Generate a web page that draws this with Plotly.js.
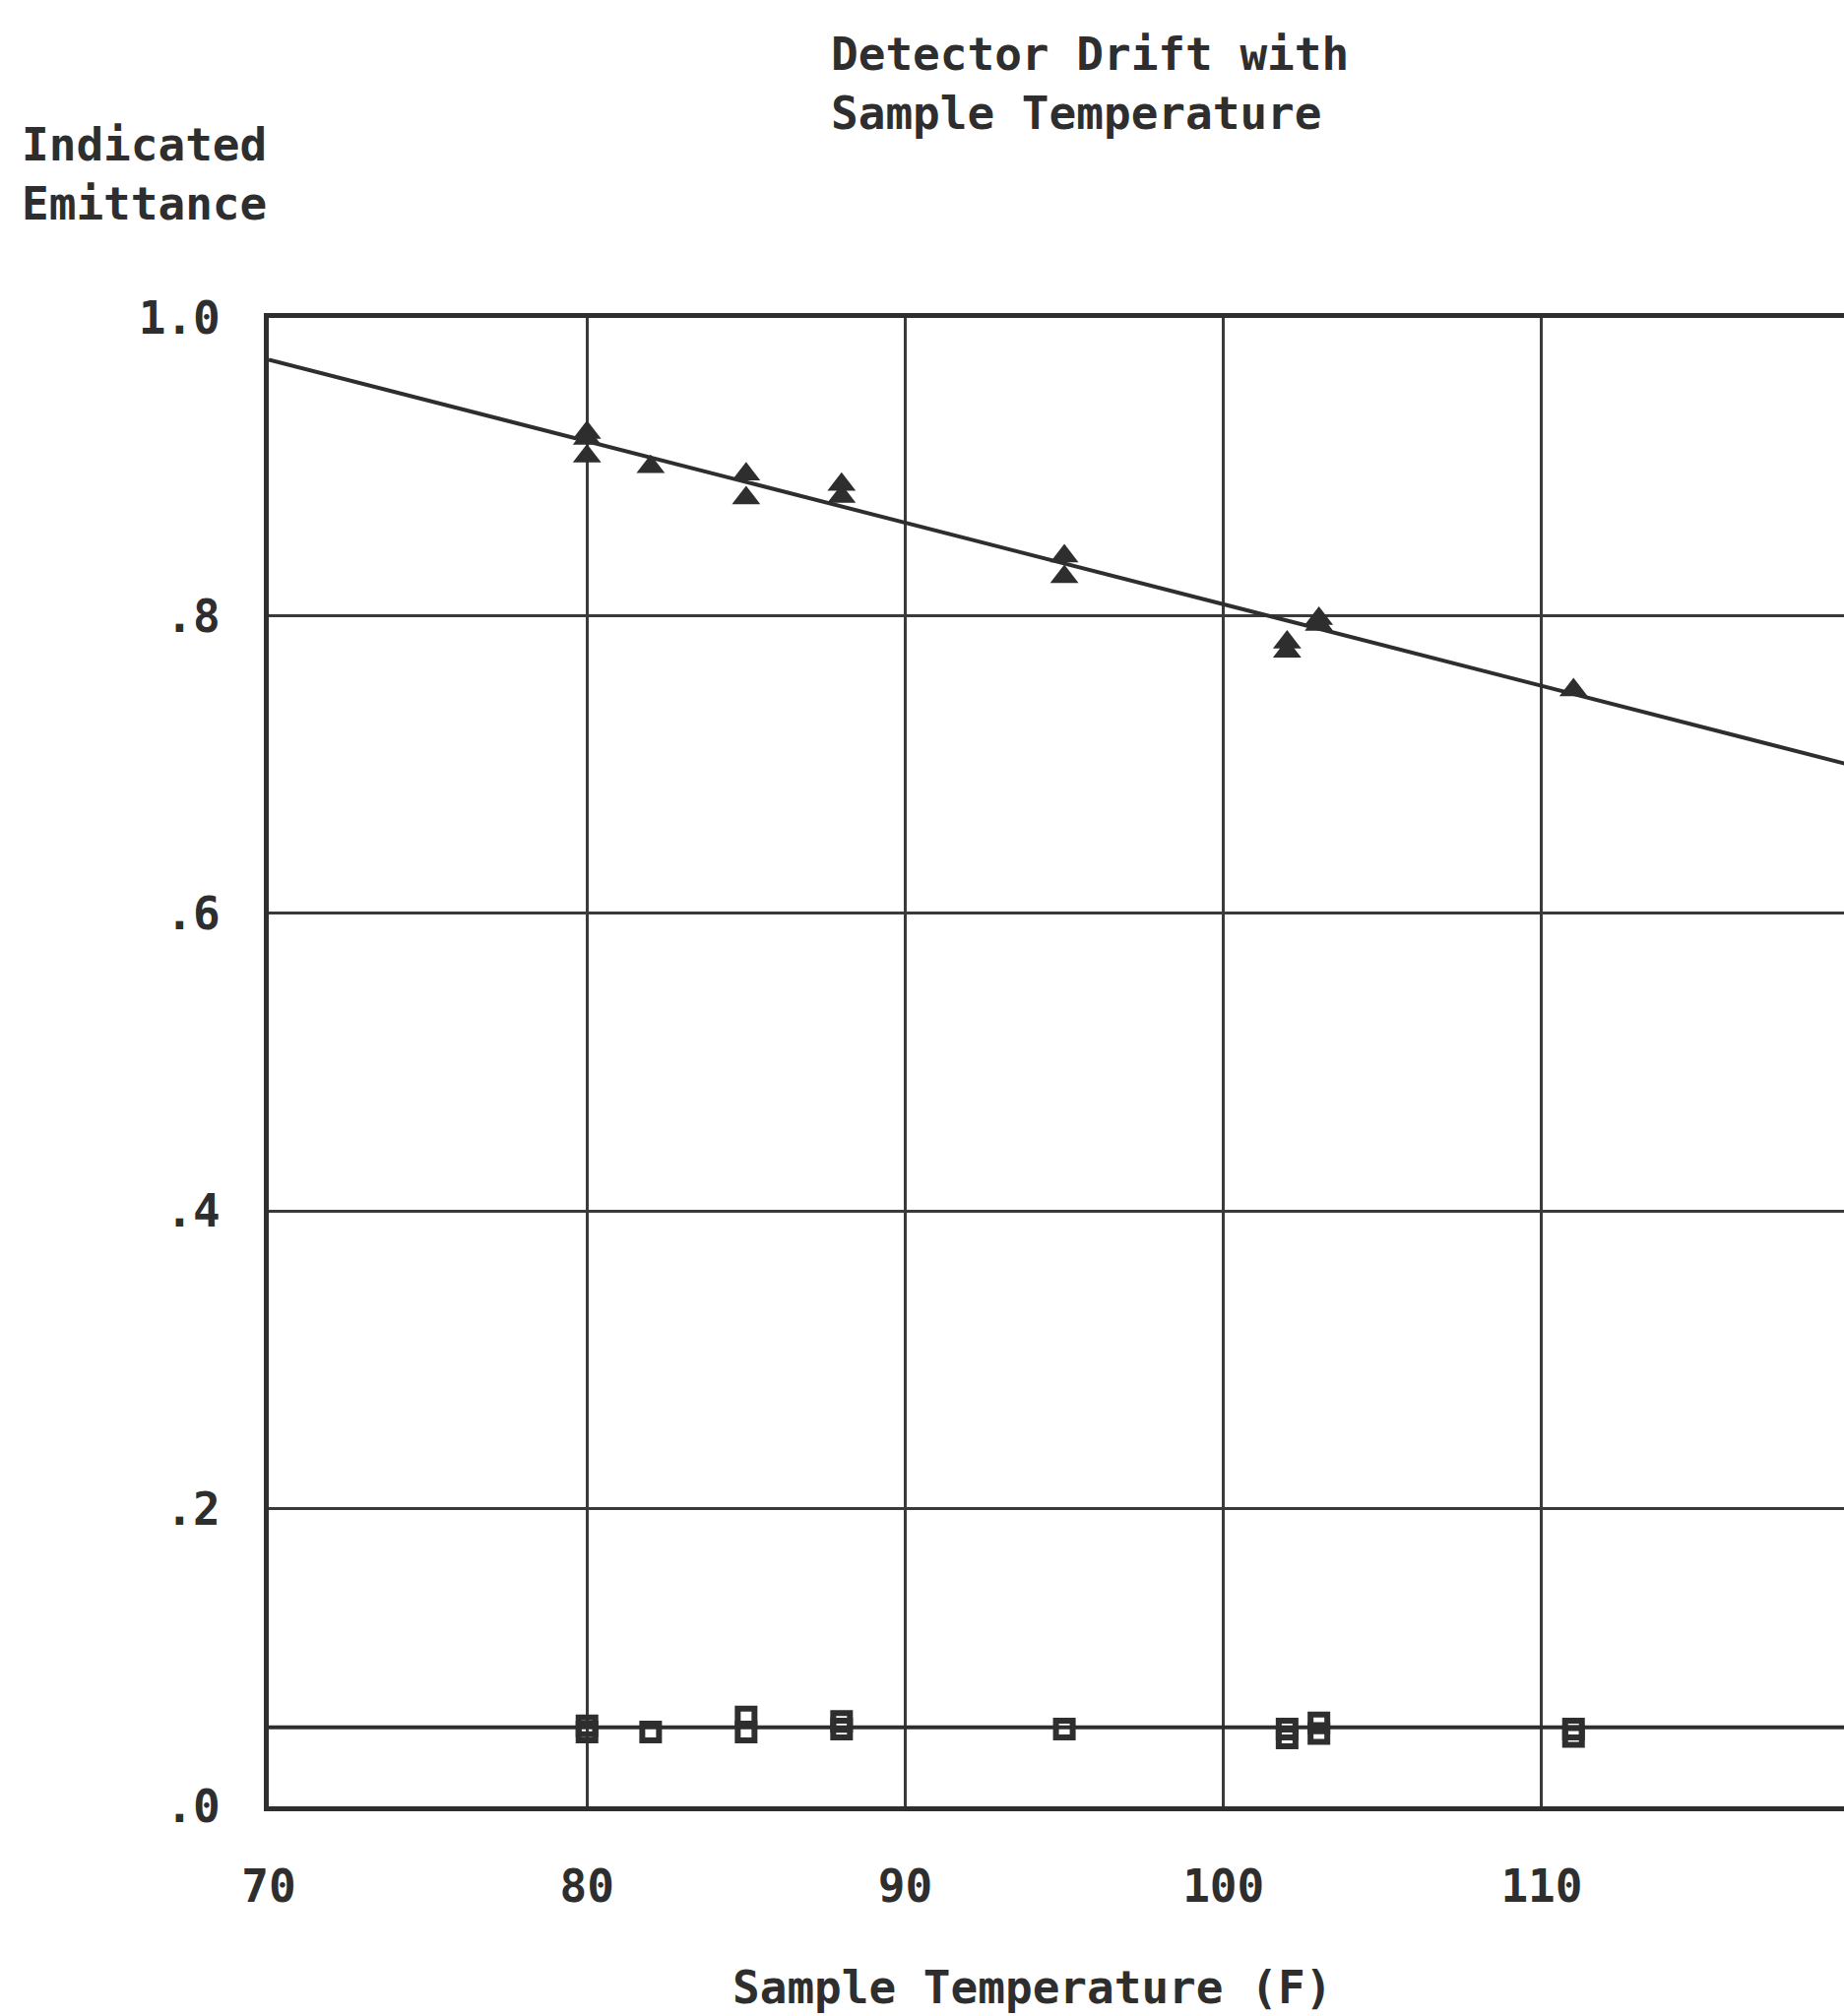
<!DOCTYPE html>
<html>
<head>
<meta charset="utf-8">
<script src="https://cdn.plot.ly/plotly-3.0.1.min.js"></script>
<style>html,body{margin:0;padding:0;background:#fff;}#chart{width:1873px;height:2048px;}</style>
</head>
<body>
<div id="chart"></div>
<script>
// Triangle series (upper, drifting with temperature)
const triX = [80, 80, 80, 82, 85, 85, 88, 88, 95, 95, 102, 102, 103, 103, 111];
const triY = [0.923, 0.919, 0.907, 0.900, 0.895, 0.879, 0.888, 0.880, 0.840, 0.826, 0.782, 0.776, 0.798, 0.794, 0.750];

// Square series (lower, flat)
const sqX = [80, 80, 82, 85, 85, 88, 88, 95, 102, 102, 103, 103, 111, 111];
const sqY = [0.054, 0.050, 0.050, 0.060, 0.050, 0.057, 0.052, 0.052, 0.052, 0.046, 0.056, 0.049, 0.052, 0.047];

// Fitted lines (end points)
const fitX = [70, 120];
const fitTriY = [0.972, 0.698];
const fitSqY = [0.053, 0.053];

// Ticks
const xTickVals = [70, 80, 90, 100, 110];
const xTickText = ['70', '80', '90', '100', '110'];
const yTickVals = [0, 0.2, 0.4, 0.6, 0.8, 1.0];
const yTickText = ['.0', '.2', '.4', '.6', '.8', '1.0'];

const ink = '#2e2e2e';
const fontFam = '"DejaVu Sans Mono", "Liberation Mono", monospace';

const traces = [
  {x: fitX, y: fitTriY, mode: 'lines', line: {color: ink, width: 4}, hoverinfo: 'skip', showlegend: false},
  {x: fitX, y: fitSqY, mode: 'lines', line: {color: ink, width: 4}, hoverinfo: 'skip', showlegend: false},
  {x: triX, y: triY, mode: 'markers', marker: {symbol: 'triangle-up', size: 25, color: ink, line: {width: 0}}, showlegend: false},
  {x: sqX, y: sqY, mode: 'markers', marker: {symbol: 'square-open', size: 17, color: ink, line: {width: 6, color: ink}}, showlegend: false}
];

const layout = {
  width: 1873, height: 2048,
  margin: {l: 273, r: 0, t: 323, b: 213, pad: 0},
  paper_bgcolor: '#ffffff', plot_bgcolor: '#ffffff',
  font: {family: fontFam, color: ink, size: 46, weight: 'bold'},
  showlegend: false,
  title: {
    text: '<b>Detector Drift with<br>Sample Temperature</b>',
    x: 844 / 1873, xref: 'container', xanchor: 'left',
    y: 1 - 71 / 2048, yref: 'container', yanchor: 'top',
    font: {family: fontFam, size: 46, color: ink},
    align: 'left'
  },
  xaxis: {
    range: [70, 119.5], tickvals: xTickVals, ticktext: xTickText,
    showgrid: true, gridcolor: '#3a3a3a', gridwidth: 3,
    zeroline: false, showline: true, linecolor: ink, linewidth: 5, mirror: true,
    ticks: 'outside', ticklen: 37, tickcolor: 'rgba(0,0,0,0)',
    tickfont: {family: fontFam, size: 46, color: ink, weight: 'bold'}
  },
  yaxis: {
    range: [0, 1], tickvals: yTickVals, ticktext: yTickText,
    showgrid: true, gridcolor: '#3a3a3a', gridwidth: 3,
    zeroline: false, showline: true, linecolor: ink, linewidth: 5, mirror: false,
    ticks: 'outside', ticklen: 35, tickcolor: 'rgba(0,0,0,0)',
    tickfont: {family: fontFam, size: 46, color: ink, weight: 'bold'}
  },
  annotations: [
    {
      text: '<b>Indicated<br>Emittance</b>', xref: 'paper', yref: 'paper',
      x: (20 - 273) / 1600, y: (1835 - 118) / 1512, xanchor: 'left', yanchor: 'top',
      align: 'left', showarrow: false, font: {family: fontFam, size: 46, color: ink}
    },
    {
      text: '<b>Sample Temperature (F)</b>', xref: 'paper', yref: 'paper',
      x: (1048 - 273) / 1600, y: (1835 - 1990) / 1512, xanchor: 'center', yanchor: 'top',
      showarrow: false, font: {family: fontFam, size: 46, color: ink}
    }
  ]
};

Plotly.newPlot('chart', traces, layout, {displayModeBar: false, staticPlot: true});
</script>
</body>
</html>
